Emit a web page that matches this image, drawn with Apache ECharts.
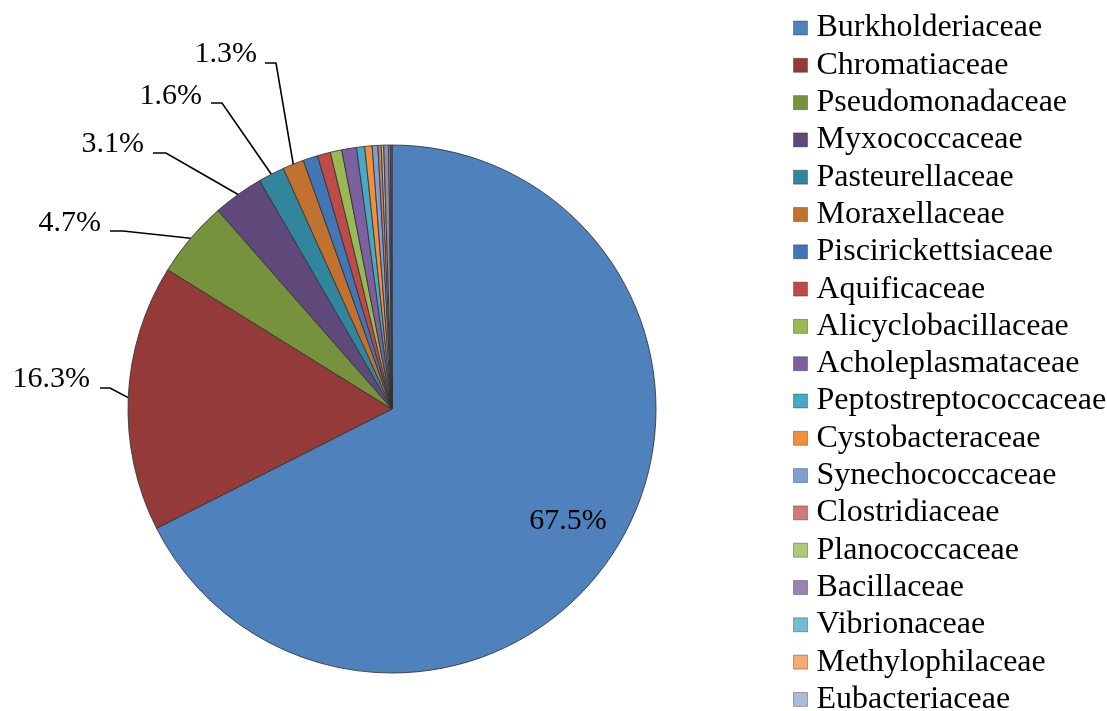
<!DOCTYPE html>
<html><head><meta charset="utf-8">
<script src="https://cdn.jsdelivr.net/npm/echarts@6/dist/echarts.min.js"></script>
<style>html,body{margin:0;padding:0;background:#fff}#c{width:1107px;height:711px}</style>
</head><body><div id="c"></div>
<script>
// ---- data ----
const families = ['Burkholderiaceae','Chromatiaceae','Pseudomonadaceae','Myxococcaceae','Pasteurellaceae','Moraxellaceae','Piscirickettsiaceae','Aquificaceae','Alicyclobacillaceae','Acholeplasmataceae','Peptostreptococcaceae','Cystobacteraceae','Synechococcaceae','Clostridiaceae','Planococcaceae','Bacillaceae','Vibrionaceae','Methylophilaceae','Eubacteriaceae'];
const shares = [67.5,16.3,4.7,3.1,1.6,1.3,0.9,0.8,0.7,0.9,0.5,0.45,0.35,0.2,0.15,0.3,0.1,0.05,0.05];
const labelledCount = 6;

// ---- style ----
const colors = ['#4F81BD','#943A38','#76923C','#5F497A','#31859C','#C2722F','#4276B6','#BE4B48','#98B954','#7D60A0','#46AAC5','#F38E3C','#7F9FCF','#CD7B79','#AFC97A','#9983B5','#74BCD2','#F9A972','#A9BCDA'];
const FONT = 'Liberation Serif, Times New Roman, serif';
// label placement (text anchor + horizontal tail of the leader line)
const labelSpots = [
  {x:568, y:521, align:'center'},
  {x:90,  y:379, tail:[110,100], ly:388},
  {x:101, y:223, tail:[123,110], ly:231},
  {x:144, y:144, tail:[166,153], ly:153},
  {x:202, y:96,  tail:[222,211], ly:103},
  {x:257, y:54,  tail:[276,265], ly:63}
];
const CX = 392, CY = 409, R = 264;

const data = families.map((n,i)=>({
  name:n, value:shares[i],
  itemStyle:{color:colors[i]},
  label:{show: i<labelledCount, position: i===0?'inside':'outside'},
  labelLine:{show: i>0 && i<labelledCount}
}));

const chart = echarts.init(document.getElementById('c'), null, {renderer:'canvas'});
chart.setOption({
  animation:false,
  backgroundColor:'#fff',
  legend:{
    orient:'vertical', left:793, top:12, height:760, padding:0,
    itemWidth:14, itemHeight:14, itemGap:5.3,
    icon:'rect',
    itemStyle:{borderColor:'rgba(0,0,0,0.3)', borderWidth:1},
    textStyle:{fontFamily:FONT, fontSize:32, color:'#000', lineHeight:31, padding:[0,0,0,4]},
    data:families
  },
  series:[{
    type:'pie',
    center:[CX,CY], radius:R,
    startAngle:90, clockwise:true,
    avoidLabelOverlap:false,
    percentPrecision:1,
    emphasis:{disabled:true},
    itemStyle:{borderColor:'rgba(50,50,50,0.85)', borderWidth:1},
    label:{formatter:'{d}%', fontFamily:FONT, fontSize:30, color:'#000'},
    labelLine:{lineStyle:{color:'#000', width:1.6}, length:10, length2:10},
    labelLayout:function(p){
      const s = labelSpots[p.dataIndex];
      if(!s) return {};
      if(p.dataIndex===0) return {x:s.x, y:s.y, align:'center', verticalAlign:'middle'};
      let start = p.labelLinePoints && p.labelLinePoints[0];
      if(!start){
        let cum=0; const tot=shares.reduce((a,b)=>a+b,0);
        for(let k=0;k<p.dataIndex;k++) cum+=shares[k];
        const a=(cum+shares[p.dataIndex]/2)/tot*2*Math.PI;
        start=[CX+R*Math.sin(a), CY-R*Math.cos(a)];
      }
      return {x:s.x, y:s.y, align:'right', verticalAlign:'middle',
        labelLinePoints:[start,[s.tail[0],s.ly],[s.tail[1],s.ly]]};
    },
    data:data
  }]
});
</script></body></html>
